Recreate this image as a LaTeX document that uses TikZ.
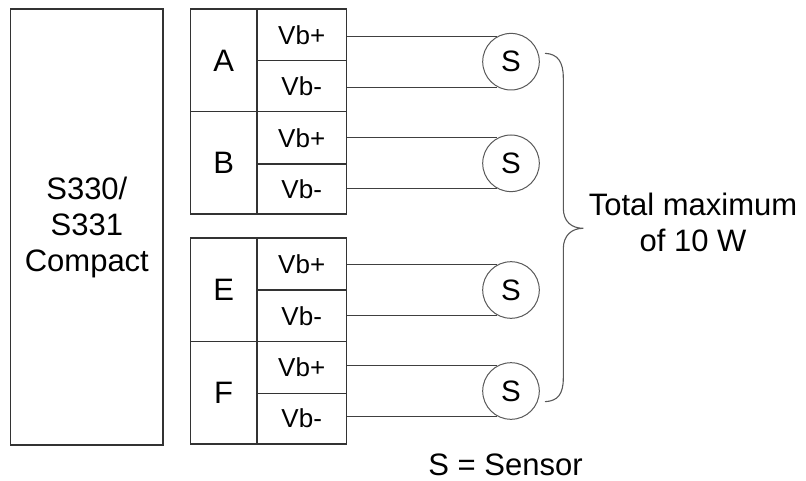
\documentclass[tikz,border=0pt]{standalone}
\usepackage{fontspec}
\setmainfont{Liberation Sans}
\begin{document}
\begin{tikzpicture}[x=1pt,y=-1pt,
  boxline/.style={draw=black!80,line width=1.4pt},
  cellbox/.style={boxline,inner sep=0pt,anchor=north west},
  lbl/.style={font=\fontsize{31}{36}\selectfont},
  vb/.style={font=\fontsize{26}{30}\selectfont},
  sensor/.style={circle,draw=black!65,line width=1pt,minimum size=56.6pt,inner sep=0pt,font=\fontsize{29.5}{34}\selectfont},
  wire/.style={draw=black!75,line width=1.1pt},
  bracestyle/.style={draw=black!65,line width=1.1pt}]
\useasboundingbox (0,0) rectangle (806,481);
% main unit
\node[cellbox,minimum width=152.3pt,minimum height=436pt,lbl,align=center] (main) at (10,8.3)
  {\fontsize{31}{35}\selectfont S330/\\S331\\Compact};
% block A/B
\node[cellbox,minimum width=66.8pt,minimum height=102.7pt,lbl] (A) at (189.5,8.3) {A};
\node[cellbox,minimum width=66.8pt,minimum height=102.3pt,lbl] (B) at (189.5,111) {B};
\node[cellbox,minimum width=89.4pt,minimum height=51.7pt,vb] (Ap) at (256.3,8.3) {Vb+};
\node[cellbox,minimum width=89.4pt,minimum height=51pt,vb] (Am) at (256.3,60) {Vb-};
\node[cellbox,minimum width=89.4pt,minimum height=52.3pt,vb] (Bp) at (256.3,111) {Vb+};
\node[cellbox,minimum width=89.4pt,minimum height=50pt,vb] (Bm) at (256.3,163.3) {Vb-};
% block E/F
\node[cellbox,minimum width=66.8pt,minimum height=103.7pt,lbl] (E) at (189.5,237.3) {E};
\node[cellbox,minimum width=66.8pt,minimum height=102.3pt,lbl] (F) at (189.5,341) {F};
\node[cellbox,minimum width=89.4pt,minimum height=52pt,vb] (Ep) at (256.3,237.3) {Vb+};
\node[cellbox,minimum width=89.4pt,minimum height=51.7pt,vb] (Em) at (256.3,289.3) {Vb-};
\node[cellbox,minimum width=89.4pt,minimum height=51.7pt,vb] (Fp) at (256.3,341) {Vb+};
\node[cellbox,minimum width=89.4pt,minimum height=50.6pt,vb] (Fm) at (256.3,392.7) {Vb-};
% sensors
\node[sensor] (sA) at (511,61.7) {S};
\node[sensor] (sB) at (511,163.3) {S};
\node[sensor] (sE) at (511,290) {S};
\node[sensor] (sF) at (511,391) {S};
% wires
\foreach \c/\s in {A/sA,B/sB,E/sE,F/sF}{
  \draw[wire] (\s.118 -| \c p.east) -- (\s.118);
  \draw[wire] (\s.242 -| \c m.east) -- (\s.242);
}
% brace
\coordinate (bt) at (545,53.3);
\coordinate (bb) at (545,401.7);
\coordinate (tip) at (583.3,228.3);
\draw[bracestyle] (bt) .. controls (558,54) and (563.3,62) .. (563.3,78)
  -- (563.3,208) .. controls (563.3,222) and (572,228.3) .. (tip)
  .. controls (572,228.3) and (563.3,235) .. (563.3,249)
  -- (563.3,378) .. controls (563.3,394) and (558,401) .. (bb);
\node[lbl,align=center,inner sep=0pt] (total) at (693,222)
  {\fontsize{31}{36.5}\selectfont Total maximum\\of 10 W};
\node[lbl,inner sep=0pt] (legend) at (505.5,465) {S = Sensor};
\end{tikzpicture}
\end{document}
